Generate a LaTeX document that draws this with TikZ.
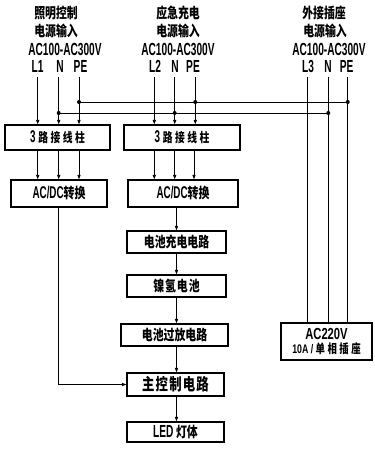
\documentclass[tikz,border=0pt]{standalone}
\usepackage{fontspec}
\setmainfont{Liberation Sans}
\newfontfamily\cjk[FakeStretch=0.75]{Noto Sans CJK SC}
\newfontfamily\latA[FakeStretch=0.58]{Liberation Sans}
\newfontfamily\latB[FakeStretch=0.7]{Liberation Sans}
\usetikzlibrary{arrows.meta}
\tikzset{
  cj/.style={inner sep=0, text height=12bp, text depth=0.5bp, font=\cjk\bfseries\fontsize{14.5bp}{15bp}\selectfont},
  la/.style={inner sep=0, text height=12.5bp, text depth=0bp, font=\latA\bfseries\fontsize{17.5bp}{18bp}\selectfont},
  blk/.style={draw, line width=1.3bp, inner sep=0, font=\cjk\bfseries\fontsize{14.5bp}{15bp}\selectfont},
  wire/.style={line width=0.9bp},
  arr/.style={wire, -{Triangle[length=4.5bp,width=3.2bp]}},
  dot/.style={circle, fill, inner sep=0, minimum size=4bp},
}
\newcommand{\LA}[1]{{\latA #1}}
\begin{document}
\begin{tikzpicture}[x=1bp,y=-1bp]
\useasboundingbox (0,0) rectangle (374,450);

% headers
\node[cj] (h1a) at (56,13) {照明控制};
\node[cj] (h1b) at (56,31) {电源输入};
\node[la] (h1c) at (65,49.3) {AC100-AC300V};
\node[la] (l1) at (37.5,66.5) {L1};
\node[la] (n1l) at (60,66.5) {N};
\node[la] (p1l) at (80.5,66.5) {PE};

\node[cj] (h2a) at (178,13) {应急充电};
\node[cj] (h2b) at (178,31) {电源输入};
\node[la] (h2c) at (178,49.3) {AC100-AC300V};
\node[la] (l2) at (155,66.5) {L2};
\node[la] (n2l) at (175,66.5) {N};
\node[la] (p2l) at (193,66.5) {PE};

\node[cj] (h3a) at (324,13) {外接插座};
\node[cj] (h3b) at (325,31) {电源输入};
\node[la] (h3c) at (329,49.3) {AC100-AC300V};
\node[la] (l3) at (308,66.5) {L3};
\node[la] (n3l) at (328,66.5) {N};
\node[la] (p3l) at (346.7,66.5) {PE};

% boxes
\node[blk, minimum width=105bp, minimum height=25bp] (b1) at (57.5,137.5)
  {{\fontsize{17bp}{17bp}\selectfont\LA{3}}\hspace{3bp}{\fontsize{13bp}{13bp}\selectfont 路\hspace{2.5bp}接\hspace{2.5bp}线\hspace{2.5bp}柱}};
\node[blk, minimum width=116bp, minimum height=25bp] (b2) at (182,137.5)
  {{\fontsize{17bp}{17bp}\selectfont\LA{3}}\hspace{3bp}{\fontsize{13bp}{13bp}\selectfont 路\hspace{2.5bp}接\hspace{2.5bp}线\hspace{2.5bp}柱}};
\node[blk, minimum width=96bp, minimum height=27bp] (c1) at (59,193.5)
  {{\fontsize{17bp}{17bp}\selectfont\LA{AC/DC}}转换};
\node[blk, minimum width=110bp, minimum height=27bp] (c2) at (183,193.5)
  {{\fontsize{17bp}{17bp}\selectfont\LA{AC/DC}}转换};
\node[blk, minimum width=99bp, minimum height=22bp] (d) at (176.5,242) {电池充电电路};
\node[blk, minimum width=99bp, minimum height=22bp] (e) at (176.5,286)
  {镍\hspace{1bp}氢\hspace{1bp}电\hspace{1bp}池};
\node[blk, minimum width=107bp, minimum height=22bp] (f) at (174.5,335) {电池过放电路};
\node[blk, minimum width=97bp, minimum height=23bp] (g) at (175.5,384.5)
  {\fontsize{16.5bp}{16bp}\selectfont 主\hspace{1.2bp}控\hspace{1.2bp}制\hspace{1.2bp}电\hspace{1.2bp}路};
\node[blk, minimum width=97bp, minimum height=20bp] (h) at (175.5,432)
  {{\fontsize{17.5bp}{17bp}\selectfont\LA{LED}}\hspace{2.5bp}灯体};
\node[blk, minimum width=91bp, minimum height=37bp, align=center] (s) at (326.5,341.5)
  {{\latB\bfseries\fontsize{16bp}{15bp}\selectfont AC220V}\\[-1bp]
   {\latB\bfseries\fontsize{12.5bp}{12bp}\selectfont 10A / }{\fontsize{12.5bp}{12bp}\selectfont 单\hspace{2.5bp}相\hspace{2.5bp}插\hspace{2.5bp}座}};

% wire tops
\coordinate (t1L) at (37.7,77);  \coordinate (t1N) at (58.7,77);  \coordinate (t1P) at (79,77);
\coordinate (t2L) at (154.3,77); \coordinate (t2N) at (174.7,77); \coordinate (t2P) at (195.3,77);
\coordinate (t3L) at (307.3,77); \coordinate (t3N) at (328.3,77); \coordinate (t3P) at (347.7,77);

% bus junctions
\coordinate (pe1) at (79,102);   \coordinate (pe2) at (195.3,102); \coordinate (pe3) at (347.7,102);
\coordinate (nn1) at (58.7,113); \coordinate (nn2) at (174.7,113); \coordinate (nn3) at (328.3,113);

\draw[wire] (pe1) -- (pe3);
\draw[wire] (nn1) -- (nn3);
\foreach \p in {pe1,pe2,pe3,nn1,nn2,nn3} \node[dot] at (\p) {};

\foreach \t in {t1L,t1N,t1P} \draw[arr] (\t) -- (\t |- b1.north);
\foreach \t in {t2L,t2N,t2P} \draw[arr] (\t) -- (\t |- b2.north);
\foreach \t in {t3L,t3N,t3P} \draw[wire] (\t) -- (\t |- s.north);

\foreach \t in {t1L,t1N,t1P} \draw[arr] (\t |- b1.south) -- (\t |- c1.north);
\draw[arr] (b2.south -| t2L) -- (c2.north -| t2L);
\draw[arr] (b2.south -| t2N) -- (c2.north -| t2N);
\draw[arr] (b2.south -| 194,0) -- (c2.north -| 194,0);

% main chain, all on the axis of d
\draw[arr] (c2.south -| d.north) -- (d.north);
\draw[arr] (d.south) -- (e.north);
\draw[arr] (e.south) -- (f.north -| e.south);
\draw[arr] (f.south -| e.south) -- (g.north -| e.south);
\draw[arr] (g.south -| e.south) -- (h.north -| e.south);
\draw[arr] (c1.south -| t1N) |- (g.west);
\end{tikzpicture}
\end{document}
